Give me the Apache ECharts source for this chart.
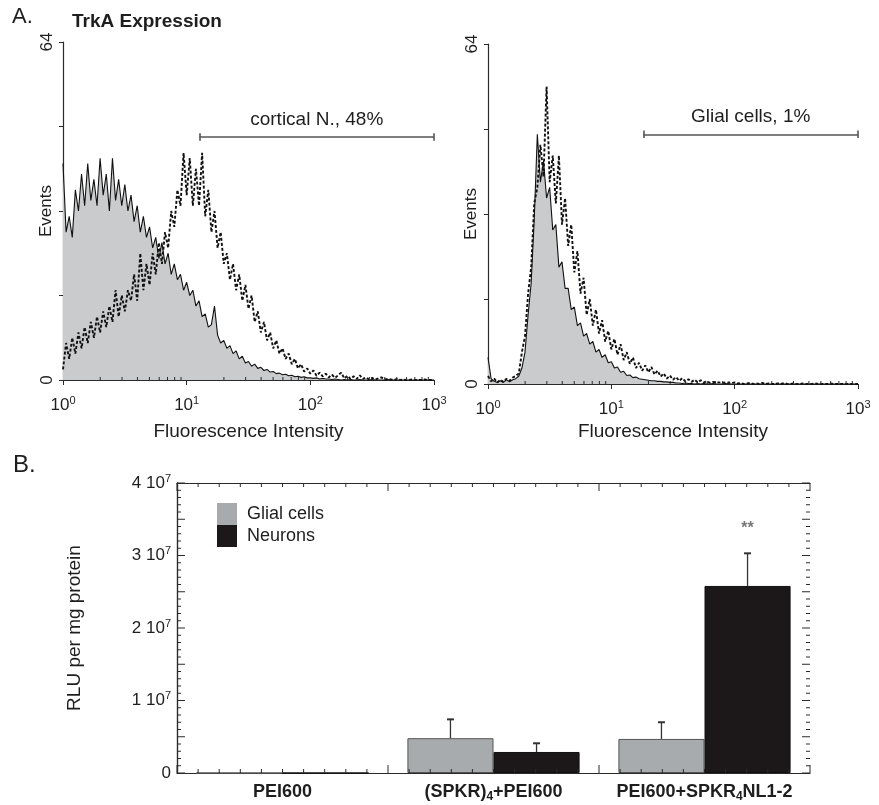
<!DOCTYPE html>
<html><head><meta charset="utf-8">
<script src="https://cdn.jsdelivr.net/npm/echarts@6/dist/echarts.min.js"></script>
<style>html,body{margin:0;padding:0;background:#fff}#c{width:879px;height:805px}</style>
</head><body><div id="c"></div><script>
const FONT = '"Liberation Sans", Arial, Helvetica, sans-serif';

// ---------- Panel A: flow cytometry histograms (40 channels per decade, 10^0 .. 10^3) ----------
const binsPerDecade = 40;
const corticalControl = [
  41,28,31,27,36,32,39,33,41,34, 38,33,42,35,39,32,42,34,38,33,
  37,32,35,30,33,28,31,27,29,25, 27,23,26,22,24,20,22,19,20,17,
  18.5,16,17,14,15,12,12.5,10,10.5,14, 8.5,7,7.5,6,6.5,5,5.5,4,4.5,3.2,
  3.5,2.6,3,2.2,2.4,1.8,2,1.5,1.6,1.2, 1.3,1,1.1,0.8,0.9,0.6,0.7,0.5,0.6,0.4,
  0.4,0.3,0.4,0.2,0.3,0.2,0.2,0.1,0.2,0.1, 0,0.1,0,0.1,0,0,0.1,0,0,0,
  0.1,0,0,0,0,0.1,0,0,0,0, 0,0,0,0,0,0,0,0,0,0,0];
const corticalTrkA = [
  2,7,4,8,5,9,6,10,7,11, 8,12,9,13,10,14,11,17,12,16,
  13,17,15,20,15,24,17,22,18,24, 20,26,22,28,25,32,29,36,33,43,
  35,42,33,40,33,43,31,36,28,32, 25,28,22,24,19,22,17,20,15,18,
  13.5,16,11,13,9,11,7.5,9,6,7.5, 5,6,4,5,3,4,2.2,3,1.6,2.2,
  1.2,1.8,0.8,1.4,0.7,1.2,0.5,1,0.4,0.9, 1.4,0.3,0.8,0.2,0.7,0.2,0.9,0.2,0.5,0.1,
  0.4,0.1,0.3,0.5,0.1,0.2,0.1,0,0.2,0, 0.1,0,0,0.1,0,0,0,0.1,0,0,0];
const glialControl = [
  5,1,0.5,0.3,0.6,0.3,0.8,0.4,0.8,1, 1.5,3,6,13,19,31,47,38,42,35,
  37,29,30,22,23,18,18,14,14.5,11, 11.5,9,9.5,7.5,8,6,6.5,5,5.5,4,
  4.2,3,3.2,2.2,2.4,1.6,1.7,1.2,1.3,1, 0.9,0.8,0.7,0.6,0.6,0.5,0.5,0.4,0.4,0.3,
  0.3,0.2,0.2,0.1,0.2,0.1,0.1,0,0.1,0, 0.1,0,0,0.1,0,0,0,0.1,0,0,
  0,0,0,0,0,0,0,0,0,0, 0,0,0,0,0,0,0,0,0,0,
  0,0,0,0,0,0,0,0,0,0, 0,0,0,0,0,0,0,0,0,0,0];
const glialTrkA = [
  1.5,0.5,1,0.3,0.8,0.4,1,0.6,1.2,1.5, 2,6,9,17,22,34,37,45,39,56,
  38,43,34,43,30,35,26,30,21,25, 17,20,13,16,11,14,9.5,12,8,10,
  6.5,8.5,5.5,7.5,4.5,6,3.8,5,3,4, 2.5,3.5,2.2,3.2,1.8,2.5,1.4,2,1,1.6,
  0.8,1.3,0.6,1.1,0.5,0.9,0.4,0.8,0.3,0.7, 0.3,0.5,0.2,0.4,0.3,0.3,0.2,0.3,0.2,0.2,
  0.3,0.1,0.2,0,0.1,0.2,0,0.1,0,0.2, 0,0.1,0,0,0.1,0,0.2,0,0,0.1,
  0,0,0.1,0,0,0,0.1,0,0,0, 0,0.1,0,0,0,0,0,0,0,0,0];
const gateLabels = ['cortical N., 48%', 'Glial cells, 1%'];
const gateStart = [12.7, 18.2];
const gateEnd = [1000, 1000];
const gateLevel = [46, 47];
const logDecades = [1, 10, 100];
const logMinorSteps = [2, 3, 4, 5, 6, 7, 8, 9];

// ---------- Panel B: luciferase expression ----------
const categories = ['PEI600', '(SPKR)4+PEI600', 'PEI600+SPKR4NL1-2'];
const glialRLU = [0, 4.8e6, 4.7e6];
const glialErr = [0, 2.6e6, 2.3e6];
const neuronRLU = [0, 2.9e6, 2.58e7];
const neuronErr = [0, 1.2e6, 4.5e6];
const significance = ['', '', '**'];

// ---------- helpers ----------
const toPairs = arr => arr.map((v, i) => [Math.pow(10, i / binsPerDecade), v]);
const logMinorTicks = [];
logDecades.forEach(d => logMinorSteps.forEach(s => logMinorTicks.push(d * s)));
const AX = '#2a2a2a';
const TXT = '#1e1e1e';

// frame ticks for panel B: [0 = y tick / 1 = x tick, position, length]
const bTicks = [];
for (let k = 0; k <= 40; k++) bTicks.push([0, k * 1e6, k % 5 === 0 ? 8 : 4]);
for (let k = 0; k <= 30; k++) bTicks.push([1, k / 10, k % 10 === 0 ? 8 : 4]);

const decadeRich = {
  b: {fontSize: 17, fontFamily: FONT, color: TXT, lineHeight: 20},
  s: {fontSize: 11, fontFamily: FONT, color: TXT, lineHeight: 9, verticalAlign: 'top'}
};
const decadeLabel = v => '{b|10}{s|' + Math.round(Math.log10(v)) + '}';

function histX(gi, nameGap) {
  return {
    type: 'log', logBase: 10, gridIndex: gi, min: 1, max: 1000,
    axisLine: {show: true, lineStyle: {color: AX, width: 1.2}},
    axisTick: {show: true, length: 5, lineStyle: {color: AX}},
    splitLine: {show: false},
    axisLabel: {margin: 15, formatter: decadeLabel, rich: decadeRich},
    name: 'Fluorescence Intensity', nameLocation: 'middle', nameGap: nameGap,
    nameTextStyle: {fontSize: 19, fontFamily: FONT, color: TXT}
  };
}
function histY(gi) {
  return {
    type: 'value', gridIndex: gi, min: 0, max: 64, interval: 16,
    axisLine: {show: true, lineStyle: {color: AX, width: 1.2}},
    axisTick: {show: true, length: 4, lineStyle: {color: AX}},
    splitLine: {show: false},
    axisLabel: {rotate: 90, margin: 7, fontSize: 17, fontFamily: FONT, color: TXT,
      formatter: v => (v === 0 || v === 64) ? String(v) : ''},
    name: 'Events', nameLocation: 'middle', nameRotate: 90, nameGap: 8, nameMoveOverlap: false,
    nameTextStyle: {fontSize: 17, fontFamily: FONT, color: TXT}
  };
}
function minorTicks(ai) {
  return {
    type: 'custom', xAxisIndex: ai, yAxisIndex: ai, silent: true, z: 6,
    data: logMinorTicks.map(v => [v, 0]),
    renderItem: (p, api) => {
      const pt = api.coord([api.value(0), 0]);
      return {type: 'line', shape: {x1: pt[0], y1: pt[1], x2: pt[0], y2: pt[1] - 3},
        style: {stroke: AX, lineWidth: 1}};
    }
  };
}
function gate(k) {
  const y = gateLevel[k], a = gateStart[k], b = gateEnd[k], h = 0.7;
  return {
    silent: true, symbol: ['none', 'none'], animation: false,
    lineStyle: {color: '#555', width: 1.6, type: 'solid'},
    label: {show: false},
    data: [
      [{coord: [a, y], label: {show: true, position: 'middle', distance: 8, formatter: gateLabels[k],
        fontSize: 19, fontFamily: FONT, color: TXT}}, {coord: [b, y]}],
      [{coord: [a, y - h]}, {coord: [a, y + h]}],
      [{coord: [b, y - h]}, {coord: [b, y + h]}]
    ]
  };
}
function histSeries(ai, ctrl, trka, k) {
  return [
    {type: 'line', xAxisIndex: ai, yAxisIndex: ai, data: toPairs(ctrl), showSymbol: false, z: 2,
      lineStyle: {color: '#111', width: 1.1}, areaStyle: {color: '#c9cbcd', opacity: 1}},
    {type: 'line', xAxisIndex: ai, yAxisIndex: ai, data: toPairs(trka), showSymbol: false, z: 3,
      lineStyle: {color: '#111', width: 1.9, type: [3, 2]}, markLine: gate(k)}
  ];
}

function catLabel(s) {
  const m = s.match(/^(.*SPKR\)?)4(.*)$/);
  return m ? '{b|' + m[1] + '}{sub|4}{b|' + m[2] + '}' : '{b|' + s + '}';
}
function errSeries(vals, errs, side, name) {
  return {
    type: 'custom', xAxisIndex: 2, yAxisIndex: 2, silent: true, z: 4,
    data: vals.map((v, i) => [i, v, errs[i]]),
    renderItem: (p, api) => {
      const i = api.value(0), v = api.value(1), e = api.value(2);
      const bw = api.size([1, 0])[0] * 0.408;
      const base = api.coord([i, v]);
      const top = api.coord([i, v + e]);
      const x = base[0] + side * bw / 2;
      const kids = [];
      if (e > 0) {
        kids.push({type: 'line', shape: {x1: x, y1: base[1], x2: x, y2: top[1]}, style: {stroke: '#333', lineWidth: 1.3}});
        kids.push({type: 'line', shape: {x1: x - 3.5, y1: top[1], x2: x + 3.5, y2: top[1]}, style: {stroke: '#333', lineWidth: 2}});
      }
      if (name === 'Neurons' && significance[p.dataIndex]) {
        kids.push({type: 'text', x: x, y: top[1] - 25, style: {text: significance[p.dataIndex], align: 'center', verticalAlign: 'middle',
          font: 'bold 16px ' + FONT, fill: '#777'}});
      }
      return {type: 'group', children: kids};
    }
  };
}
const frameTicks = {
  type: 'custom', xAxisIndex: 3, yAxisIndex: 2, silent: true, z: 5,
  data: bTicks,
  renderItem: (p, api) => {
    const dir = api.value(0), v = api.value(1), len = api.value(2);
    const st = {stroke: AX, lineWidth: 1};
    if (dir === 0) {
      const l = api.coord([0, v]), r = api.coord([3, v]);
      return {type: 'group', children: [
        {type: 'line', shape: {x1: l[0], y1: l[1], x2: l[0] + len, y2: l[1]}, style: st},
        {type: 'line', shape: {x1: r[0], y1: r[1], x2: r[0] - len, y2: r[1]}, style: st}]};
    }
    const b = api.coord([v, 0]), t = api.coord([v, 4e7]);
    return {type: 'group', children: [
      {type: 'line', shape: {x1: b[0], y1: b[1], x2: b[0], y2: b[1] - len}, style: st},
      {type: 'line', shape: {x1: t[0], y1: t[1], x2: t[0], y2: t[1] + len}, style: st}]};
  }
};

const frameAxisX = (pos) => ({
  type: 'value', gridIndex: 2, position: pos, min: 0, max: 3,
  axisLine: {show: pos === 'top', lineStyle: {color: AX, width: 1.2}},
  axisTick: {show: false}, axisLabel: {show: false}, splitLine: {show: false}
});
const rluRich = {
  n: {fontSize: 17, fontFamily: FONT, color: TXT, lineHeight: 20},
  s: {fontSize: 11, fontFamily: FONT, color: TXT, lineHeight: 9, verticalAlign: 'top'}
};
const rluAxis = (pos) => ({
  type: 'value', gridIndex: 2, position: pos, min: 0, max: 4e7, interval: 1e7,
  axisLine: {show: true, lineStyle: {color: AX, width: 1.2}},
  axisTick: {show: false}, splitLine: {show: false},
  axisLabel: pos === 'left' ? {margin: 6, rich: rluRich,
    formatter: v => v === 0 ? '{n|0}' : '{n|' + (v / 1e7) + ' 10}{s|7}'} : {show: false},
  name: pos === 'left' ? 'RLU per mg protein' : '', nameLocation: 'middle', nameRotate: 90, nameGap: 93,
  nameTextStyle: {fontSize: 19, fontFamily: FONT, color: TXT}
});

const option = {
  animation: false,
  backgroundColor: '#fff',
  grid: [
    {left: 63, top: 42, width: 371, height: 338},
    {left: 488, top: 44, width: 370, height: 340},
    {left: 177, top: 483, width: 633, height: 290}
  ],
  xAxis: [
    histX(0, 42), histX(1, 38),
    {type: 'category', gridIndex: 2, data: categories, position: 'bottom',
      axisLine: {show: true, lineStyle: {color: AX, width: 1.2}}, axisTick: {show: false},
      axisLabel: {interval: 0, margin: 8, formatter: catLabel, rich: {
        b: {fontSize: 18, fontWeight: 'bold', fontFamily: FONT, color: TXT, lineHeight: 22},
        sub: {fontSize: 12, fontWeight: 'bold', fontFamily: FONT, color: TXT, lineHeight: 10, verticalAlign: 'bottom'}}}},
    frameAxisX('bottom'), frameAxisX('top')
  ],
  yAxis: [histY(0), histY(1), rluAxis('left'), rluAxis('right')],
  legend: {
    data: ['Glial cells', 'Neurons'], orient: 'vertical', left: 217, top: 503, padding: 0,
    itemWidth: 20, itemHeight: 22, itemGap: 0, icon: 'rect', selectedMode: false,
    itemStyle: {borderWidth: 0},
    textStyle: {fontSize: 18, fontFamily: FONT, color: TXT, padding: [0, 0, 0, 5]}
  },
  graphic: [
    {type: 'text', left: 12, top: 6, style: {text: 'A.', font: '22px ' + FONT, fill: TXT}},
    {type: 'text', left: 72, top: 12, style: {text: 'TrkA Expression', font: 'bold 19px ' + FONT, fill: TXT}},
    {type: 'text', left: 13, top: 453, style: {text: 'B.', font: '24px ' + FONT, fill: TXT}}
  ],
  series: [
    ...histSeries(0, corticalControl, corticalTrkA, 0),
    ...histSeries(1, glialControl, glialTrkA, 1),
    minorTicks(0), minorTicks(1),
    {type: 'bar', name: 'Glial cells', xAxisIndex: 2, yAxisIndex: 2, data: glialRLU, barWidth: '40.8%', barGap: '0%',
      itemStyle: {color: '#a8abad', borderColor: '#555', borderWidth: 1}},
    {type: 'bar', name: 'Neurons', xAxisIndex: 2, yAxisIndex: 2, data: neuronRLU, barWidth: '40.8%', barGap: '0%',
      itemStyle: {color: '#1c1819', borderColor: '#111', borderWidth: 1}},
    errSeries(glialRLU, glialErr, -1, 'Glial cells'),
    errSeries(neuronRLU, neuronErr, 1, 'Neurons'),
    frameTicks
  ]
};
const chart = echarts.init(document.getElementById('c'));
chart.setOption(option);
</script></body></html>
